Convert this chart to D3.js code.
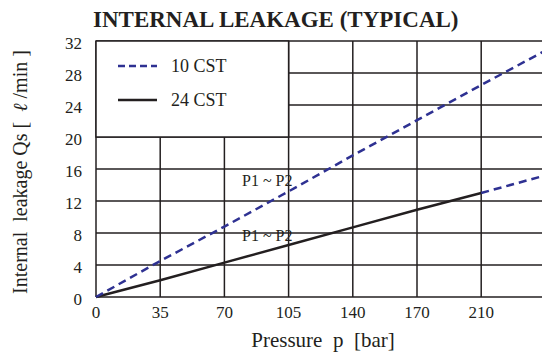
<!DOCTYPE html>
<html>
<head>
  <meta charset="utf-8">
  <title>Internal Leakage</title>
  <script src="https://cdn.jsdelivr.net/npm/d3@7"></script>
  <style>
    body { margin: 0; background: #fff; }
    svg text { font-family: "Liberation Serif", "DejaVu Serif", serif; fill: #231f20; }
  </style>
</head>
<body>
  <svg width="542" height="354"></svg>
  <script>
    // axis ticks (the x grid is evenly spaced even though labels aren't)
    const xTicks = [0, 35, 70, 105, 140, 170, 210];
    const yTicks = [0, 4, 8, 12, 16, 20, 24, 28, 32];

    // 10 CST, dashed blue
    const cst10 = [[0, 0], [35, 4.5], [70, 8.8], [105, 13.2], [140, 17.7], [170, 22.1], [210, 26.5], [245, 30.8]];
    // 24 CST, solid black
    const cst24 = [[0, 0], [35, 2.1], [70, 4.3], [105, 6.5], [140, 8.7], [170, 10.9], [210, 13.0]];
    // dashed continuation past 210 bar
    const cst24ext = [[210, 13.0], [245, 15.2]];

    const svg = d3.select('svg');
    const margin = { top: 41, left: 96, bottom: 57 };
    const step = 64.2;

    // piecewise scale so every tick sits one grid cell apart
    const xDomain = xTicks.concat([245]);
    const x = d3.scaleLinear()
      .domain(xDomain)
      .range(xDomain.map((d, i) => margin.left + i * step));
    const y = d3.scaleLinear().domain([0, 32]).range([297, margin.top]);

    const blue = '#2e3192';
    const ink = '#231f20';

    // title
    svg.append('text')
      .attr('x', 93).attr('y', 27)
      .style('font-size', '23px').style('font-weight', 'bold')
      .text('INTERNAL LEAKAGE (TYPICAL)');

    const grid = svg.append('g').attr('stroke', ink).attr('stroke-width', 1.5);

    grid.selectAll('.hline')
      .data(yTicks)
      .enter()
      .append('line')
      .attr('x1', x(0)).attr('x2', 542)
      .attr('y1', d => y(d)).attr('y2', d => y(d));

    grid.selectAll('.vline')
      .data(xTicks)
      .enter()
      .append('line')
      .attr('x1', d => x(d)).attr('x2', d => x(d))
      .attr('y1', y(0)).attr('y2', y(32));

    // legend box sits on top of the grid in the corner
    svg.append('rect')
      .attr('x', x(0)).attr('y', y(32))
      .attr('width', x(105) - x(0)).attr('height', y(20) - y(32))
      .attr('fill', '#fff').attr('stroke', ink).attr('stroke-width', 1.5);

    // tick labels
    svg.append('g').selectAll('text')
      .data(yTicks)
      .enter()
      .append('text')
      .attr('x', 82).attr('y', d => y(d) + 3)
      .attr('dy', '0.32em')
      .attr('text-anchor', 'end')
      .style('font-size', '17px')
      .text(d => d);

    svg.append('g').selectAll('text')
      .data(xTicks)
      .enter()
      .append('text')
      .attr('x', d => x(d)).attr('y', 318)
      .attr('text-anchor', 'middle')
      .style('font-size', '17px')
      .text(d => d);

    // series
    const line = d3.line().x(d => x(d[0])).y(d => y(d[1]));

    svg.append('path').datum(cst24)
      .attr('d', line)
      .attr('fill', 'none').attr('stroke', ink).attr('stroke-width', 2.5);

    svg.append('path').datum(cst10)
      .attr('d', line)
      .attr('fill', 'none').attr('stroke', blue).attr('stroke-width', 2.5)
      .attr('stroke-dasharray', '8,5');

    svg.append('path').datum(cst24ext)
      .attr('d', line)
      .attr('fill', 'none').attr('stroke', blue).attr('stroke-width', 2.5)
      .attr('stroke-dasharray', '8,5');

    // P1 ~ P2 annotations
    svg.append('text')
      .attr('x', 242).attr('y', 186)
      .style('font-size', '16px')
      .text('P1 ~ P2');
    svg.append('text')
      .attr('x', 242).attr('y', 241)
      .style('font-size', '16px')
      .text('P1 ~ P2');

    // legend
    const legend = svg.append('g');
    legend.append('line')
      .attr('x1', 118).attr('x2', 157).attr('y1', 66).attr('y2', 66)
      .attr('stroke', blue).attr('stroke-width', 2.5).attr('stroke-dasharray', '7,4');
    legend.append('text')
      .attr('x', 171).attr('y', 72)
      .style('font-size', '18px')
      .text('10 CST');
    legend.append('line')
      .attr('x1', 118).attr('x2', 157).attr('y1', 100).attr('y2', 100)
      .attr('stroke', ink).attr('stroke-width', 2.5);
    legend.append('text')
      .attr('x', 171).attr('y', 106)
      .style('font-size', '18px')
      .text('24 CST');

    // axis titles
    svg.append('text')
      .attr('x', 323).attr('y', 347)
      .attr('text-anchor', 'middle')
      .style('font-size', '21px')
      .style('white-space', 'pre')
      .text('Pressure  p  [bar]');

    const yTitle = svg.append('text')
      .attr('transform', 'translate(27,172) rotate(-90)')
      .attr('text-anchor', 'middle')
      .style('font-size', '20px')
      .style('white-space', 'pre');
    yTitle.append('tspan').text('Internal  leakage Qs [  ');
    yTitle.append('tspan').style('font-style', 'italic').text('ℓ');
    yTitle.append('tspan').text(' /min ]');
  </script>
</body>
</html>
